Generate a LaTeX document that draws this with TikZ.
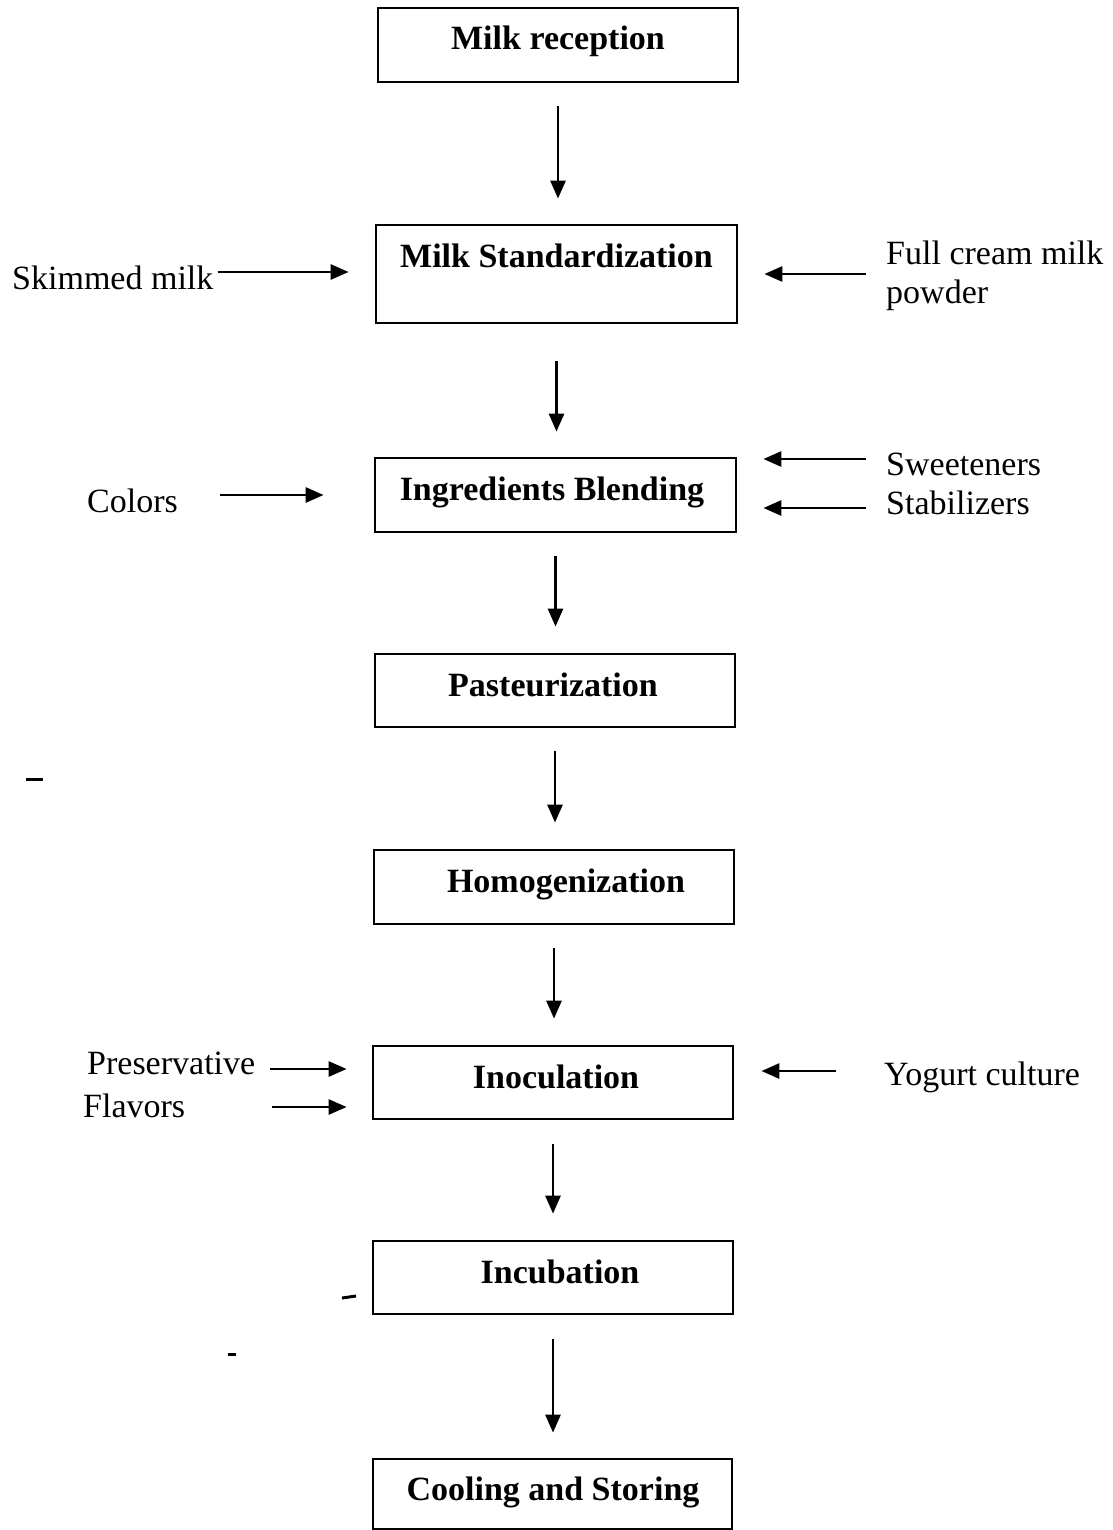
\documentclass[tikz,border=0pt]{standalone}
\usepackage{fontspec}
\setmainfont{Liberation Serif}
\usetikzlibrary{arrows.meta}
\tikzset{
  box/.style={draw, line width=2.8pt, minimum width=360pt, inner sep=0pt},
  boxtext/.style={font=\fontsize{34}{39}\selectfont\bfseries, anchor=base, inner sep=0pt},
  sidetext/.style={font=\fontsize{34}{39}\selectfont, anchor=west, inner sep=0pt, align=left},
  arr/.style={line width=2.8pt, -{Triangle[length=18pt,width=15pt]}},
  speck/.style={line width=3pt}
}
\begin{document}
\begin{tikzpicture}[x=1pt,y=-1pt]
\useasboundingbox (0,0) rectangle (1112,1530);
% boxes
\node[box, minimum height=74pt] (b1) at (558,45) {};
\node[box, minimum height=98pt, minimum width=361pt] (b2) at (556.5,274) {};
\node[box, minimum height=74pt, minimum width=361pt] (b3) at (555.5,495) {};
\node[box, minimum height=73pt] (b4) at (555,690.5) {};
\node[box, minimum height=74pt] (b5) at (554,887) {};
\node[box, minimum height=73pt] (b6) at (553,1082.5) {};
\node[box, minimum height=73pt] (b7) at (553,1277.5) {};
\node[box, minimum height=70pt, minimum width=359pt] (b8) at (552.5,1494) {};
% box texts
\node[boxtext] (t1) at (558,50) {Milk reception};
\node[boxtext] (t2) at (556.5,268) {Milk Standardization};
\node[boxtext] (t3) at (552,500) {Ingredients Blending};
\node[boxtext] (t4) at (553,696) {Pasteurization};
\node[boxtext] (t5) at (566,892) {Homogenization};
\node[boxtext] (t6) at (556,1088) {Inoculation};
\node[boxtext] (t7) at (560,1283) {Incubation};
\node[boxtext] (t8) at (553,1500) {Cooling and Storing};
% main flow arrows
\draw[arr, shorten <=23pt, shorten >=25pt] (b1.south) -- (b1.south |- b2.north);
\draw[arr, shorten <=37pt, shorten >=25pt] (b2.south) -- (b2.south |- b3.north);
\draw[arr, shorten <=23pt, shorten >=26pt] (b3.south) -- (b3.south |- b4.north);
\draw[arr, shorten <=23pt, shorten >=26pt] (b4.south) -- (b4.south |- b5.north);
\draw[arr, shorten <=23pt, shorten >=26pt] (b5.south) -- (b5.south |- b6.north);
\draw[arr, shorten <=24pt, shorten >=26pt] (b6.south) -- (b6.south |- b7.north);
\draw[arr, shorten <=24pt, shorten >=25pt] (b7.south) -- (b7.south |- b8.north);
% side texts
\node[sidetext] (skim) at (12,278) {Skimmed milk};
\node[sidetext] (fcm) at (886,276) {Full cream milk\\powder};
\node[sidetext] (col) at (87,501) {Colors};
\node[sidetext] (swe) at (886,464) {Sweeteners};
\node[sidetext] (sta) at (886,503) {Stabilizers};
\node[sidetext] (pre) at (87,1063) {Preservative};
\node[sidetext] (fla) at (83,1106) {Flavors};
\node[sidetext] (yog) at (884,1077) {Yogurt culture};
% side arrows
\draw[arr, shorten <=4pt, shorten >=26pt] (skim.east |- 0,272) -- (b2.west |- 0,272);
\draw[arr, shorten <=20pt, shorten >=26pt] (fcm.west |- 0,274) -- (b2.east |- 0,274);
\draw[arr, shorten <=42pt, shorten >=50pt] (col.east |- 0,495) -- (b3.west |- 0,495);
\draw[arr, shorten <=20pt, shorten >=26pt] (swe.west |- 0,459) -- (b3.east |- 0,459);
\draw[arr, shorten <=20pt, shorten >=26pt] (sta.west |- 0,508) -- (b3.east |- 0,508);
\draw[arr, shorten <=15pt, shorten >=25pt] (pre.east |- 0,1069) -- (b6.west |- 0,1069);
\draw[arr, shorten <=87pt, shorten >=25pt] (fla.east |- 0,1107) -- (b6.west |- 0,1107);
\draw[arr, shorten <=48pt, shorten >=27pt] (yog.west |- 0,1071) -- (b6.east |- 0,1071);
% scan specks
\draw[speck] (26,779) -- (43,779);
\draw[speck] (342,1298) -- (356,1296);
\draw[speck] (228,1354) -- (236,1354);
\end{tikzpicture}
\end{document}
